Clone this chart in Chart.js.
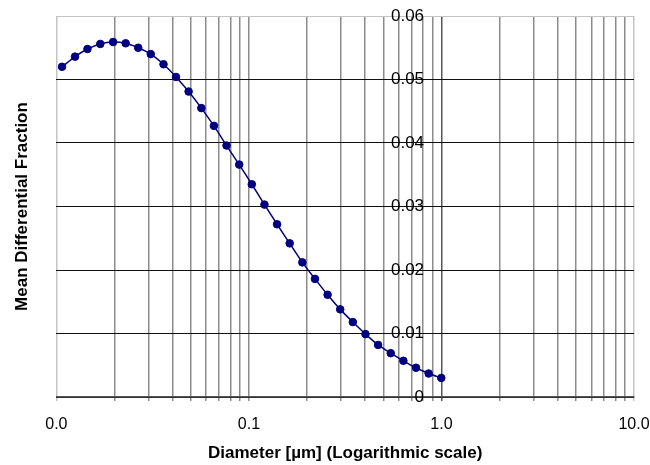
<!DOCTYPE html>
<html><head><meta charset="utf-8">
<script src="https://cdn.jsdelivr.net/npm/chart.js@4"></script>
<style>html,body{margin:0;padding:0;background:#fff;}#wrap{width:650px;height:465px;}</style>
</head><body><div id="wrap"><canvas id="c" width="650" height="465"></canvas></div>
<script>
const diameters = [0.0107,0.0125,0.0145,0.0169,0.0197,0.0229,0.0266,0.0309,0.0360,0.0418,0.0486,0.0566,0.0658,0.0765,0.0890,0.1035,0.1204,0.1400,0.1628,0.1894,0.2203,0.2562,0.2979,0.3465,0.4030,0.4688,0.5452,0.6341,0.7375,0.8578,0.9977];
const fractions = [0.0520,0.0536,0.0548,0.0556,0.0559,0.0557,0.0550,0.0540,0.0524,0.0504,0.0481,0.0455,0.0427,0.0396,0.0366,0.0335,0.0303,0.0272,0.0242,0.0212,0.0186,0.0161,0.0138,0.0118,0.0099,0.0082,0.0069,0.0057,0.0046,0.0037,0.0030];
const xGridTicks = [0.01,0.02,0.03,0.04,0.05,0.06,0.07,0.08,0.09,0.1,0.2,0.3,0.4,0.5,0.6,0.7,0.8,0.9,1,2,3,4,5,6,7,8,9,10];
const xLabelTicks = [0.01,0.1,1,10];
const xLabelTexts = ['0.0','0.1','1.0','10.0'];
const yTicks = [0,0.01,0.02,0.03,0.04,0.05,0.06];
const yTickLabels = ['0','0.01','0.02','0.03','0.04','0.05','0.06'];
const xTitle = 'Diameter [µm] (Logarithmic scale)';
const yTitle = 'Mean Differential Fraction';

const FONT = '"Liberation Sans", Arial, sans-serif';
const points = diameters.map((d, i) => ({x: d, y: fractions[i]}));

new Chart(document.getElementById('c'), {
  type: 'line',
  data: {datasets: [{
    data: points,
    borderColor: '#000080', backgroundColor: '#000080',
    borderWidth: 1.5, pointRadius: 3.8, pointBorderWidth: 1, pointStyle: 'circle',
    tension: 0.3, fill: false
  }]},
  options: {
    responsive: false, animation: false, devicePixelRatio: 1,
    layout: {padding: {left: 6, right: 16, top: 16, bottom: 3}},
    plugins: {legend: {display: false}, tooltip: {enabled: false}},
    scales: {
      x: {
        type: 'logarithmic', position: 'bottom', min: 0.01, max: 10,
        afterBuildTicks: s => { s.ticks = xGridTicks.map(v => ({value: v})); },
        afterFit: s => { s.paddingRight = 0; s.height -= 4; },
        ticks: {
          autoSkip: false, maxRotation: 0, minRotation: 0, padding: 16, color: '#000',
          font: {family: FONT, size: 16, lineHeight: 1},
          callback: v => { const i = xLabelTicks.indexOf(v); return i >= 0 ? xLabelTexts[i] : ''; }
        },
        grid: {
          color: c => {
            const v = c.tick ? c.tick.value : null;
            if (v === 0.01 || v === 10) return '#c4c4c4';
            if (v === 1) return '#555';
            return '#8c8c8c';
          },
          lineWidth: 1.5, tickLength: 4, drawTicks: true
        },
        border: {display: true, color: '#555', width: 1.5},
        title: {display: true, text: xTitle, color: '#000', font: {family: FONT, size: 17, weight: 'bold', lineHeight: 1}, padding: {top: 0, bottom: 0}}
      },
      y: {
        type: 'linear', position: 'left', min: 0, max: 0.06,
        afterBuildTicks: s => { s.ticks = yTicks.map(v => ({value: v})); },
        ticks: {display: false},
        grid: {color: c => (c.tick && c.tick.value === 0.06) ? '#c4c4c4' : '#111', lineWidth: 1, drawTicks: false},
        border: {display: false},
        title: {display: true, text: yTitle, color: '#000', font: {family: FONT, size: 17, weight: 'bold'}, padding: {top: 6, bottom: 24}}
      },
      y2: {
        type: 'linear', position: {x: 0.812}, min: 0, max: 0.06,
        afterBuildTicks: s => { s.ticks = yTicks.map(v => ({value: v})); },
        ticks: {color: '#000', font: {family: FONT, size: 17}, callback: (v, i) => yTickLabels[i]},
        grid: {display: false, drawTicks: false},
        border: {display: false}
      }
    }
  }
});
</script>
</body></html>
